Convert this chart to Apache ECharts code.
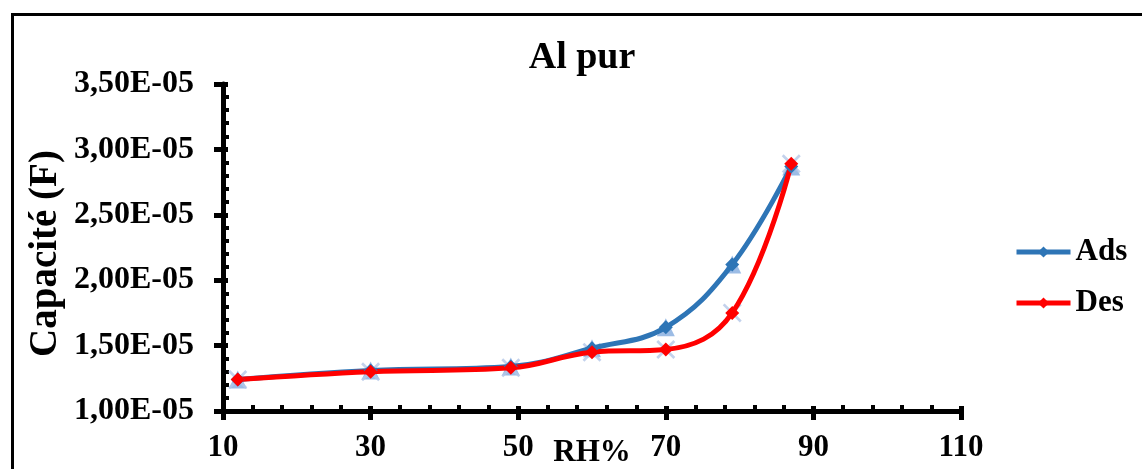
<!DOCTYPE html>
<html>
<head>
<meta charset="utf-8">
<script src="https://cdn.jsdelivr.net/npm/echarts@6/dist/echarts.min.js"></script>
<style>
html,body{margin:0;padding:0;background:#fff;}
#chart{width:1142px;height:469px;}
</style>
</head>
<body>
<div id="chart"></div>
<script>
const titleText = 'Al pur';
const xName = 'RH%';
const yName = 'Capacité (F)';
const rh = [12, 30, 49, 60, 70, 79, 87];
const ads = [1.24e-5, 1.31e-5, 1.34e-5, 1.48e-5, 1.64e-5, 2.12e-5, 2.87e-5];
const des = [1.24e-5, 1.30e-5, 1.33e-5, 1.45e-5, 1.47e-5, 1.75e-5, 2.89e-5];
const xMin = 10, xMax = 110, xStep = 20;
const yMin = 1.0e-5, yMax = 3.5e-5, yStep = 0.5e-5;

const FONT = '"Liberation Serif", "Times New Roman", serif';
const pts = arr => rh.map((x, i) => [x, arr[i]]);
const yFmt = v => (v / 1e-5).toFixed(2).replace('.', ',') + 'E-05';

const chart = echarts.init(document.getElementById('chart'));
chart.setOption({
  backgroundColor: '#fff',
  animation: false,
  graphic: [{
    type: 'rect', left: 10, top: 12, silent: true,
    shape: { x: 0, y: 0, width: 1200, height: 600 },
    style: { fill: 'none', stroke: '#000', lineWidth: 3 }
  }],
  title: {
    text: titleText, left: 582, top: 39, textAlign: 'center', padding: 0,
    textStyle: { fontFamily: FONT, fontWeight: 'bold', fontSize: 38, color: '#000' }
  },
  legend: {
    data: ['Ads', 'Des'], orient: 'vertical', left: 1014, top: 234, padding: 0,
    itemWidth: 54, itemHeight: 14, itemGap: 15,
    lineStyle: { width: 5 },
    textStyle: { fontFamily: FONT, fontWeight: 'bold', fontSize: 31, color: '#000', lineHeight: 36 }
  },
  grid: { left: 223, right: 181, top: 84, bottom: 58, containLabel: false, outerBoundsMode: 'none' },
  xAxis: [{
    type: 'value', min: xMin, max: xMax, interval: xStep, position: 'bottom',
    name: xName, nameLocation: 'middle', nameGap: 26, nameMoveOverlap: false,
    nameTextStyle: { fontFamily: FONT, fontWeight: 'bold', fontSize: 31, color: '#000', verticalAlign: 'top' },
    axisLine: { show: true, onZero: false, lineStyle: { color: '#000', width: 5 } },
    axisTick: { show: true, inside: false, length: 9, lineStyle: { color: '#000', width: 5 } },
    minorTick: { show: false },
    splitLine: { show: false },
    axisLabel: { margin: 21, fontFamily: FONT, fontWeight: 'bold', fontSize: 31, color: '#000' }
  }, {
    type: 'value', min: xMin, max: xMax, interval: xStep, position: 'bottom',
    axisLine: { show: false, onZero: false },
    axisTick: { show: true, inside: true, length: 5, lineStyle: { color: '#000', width: 5 } },
    minorTick: { show: true, splitNumber: 5, length: 6, lineStyle: { color: '#000', width: 4 } },
    splitLine: { show: false },
    axisLabel: { show: false }
  }],
  yAxis: [{
    type: 'value', min: yMin, max: yMax, interval: yStep, position: 'left',
    name: yName, nameLocation: 'middle', nameGap: 158, nameRotate: 90, nameMoveOverlap: false,
    nameTextStyle: { fontFamily: FONT, fontWeight: 'bold', fontSize: 39, color: '#000', padding: [0, 12, 0, 0] },
    axisLine: { show: true, onZero: false, lineStyle: { color: '#000', width: 5 } },
    axisTick: { show: true, inside: false, length: 9, lineStyle: { color: '#000', width: 5 } },
    minorTick: { show: false },
    splitLine: { show: false },
    axisLabel: { margin: 29, formatter: yFmt, fontFamily: FONT, fontWeight: 'bold', fontSize: 32, color: '#000' }
  }, {
    type: 'value', min: yMin, max: yMax, interval: yStep, position: 'left',
    axisLine: { show: false, onZero: false },
    axisTick: { show: true, inside: true, length: 5, lineStyle: { color: '#000', width: 5 } },
    minorTick: { show: true, splitNumber: 5, length: 6, lineStyle: { color: '#000', width: 4 } },
    splitLine: { show: false },
    axisLabel: { show: false }
  }],
  series: [{
    name: 'AdsMarks', type: 'scatter', xAxisIndex: 0, yAxisIndex: 0,
    data: pts(ads), symbol: 'triangle', symbolSize: 18,
    itemStyle: { color: 'rgba(100,150,215,0.8)' }
  }, {
    name: 'DesMarks', type: 'scatter', xAxisIndex: 0, yAxisIndex: 0,
    data: pts(des), symbol: 'path://M0,1L1,0L10,9L9,10ZM9,0L10,1L1,10L0,9Z', symbolSize: 19,
    itemStyle: { color: '#B4C7E7' }
  }, {
    name: 'Ads', type: 'line', xAxisIndex: 0, yAxisIndex: 0,
    data: pts(ads), smooth: 0.4, symbol: 'diamond', symbolSize: 14, showAllSymbol: true,
    lineStyle: { color: '#2E75B6', width: 5 },
    itemStyle: { color: '#2E75B6' }
  }, {
    name: 'Des', type: 'line', xAxisIndex: 0, yAxisIndex: 0,
    data: pts(des), smooth: 0.4, symbol: 'diamond', symbolSize: 14, showAllSymbol: true,
    lineStyle: { color: '#FF0000', width: 5 },
    itemStyle: { color: '#FF0000' }
  }]
});
</script>
</body>
</html>
